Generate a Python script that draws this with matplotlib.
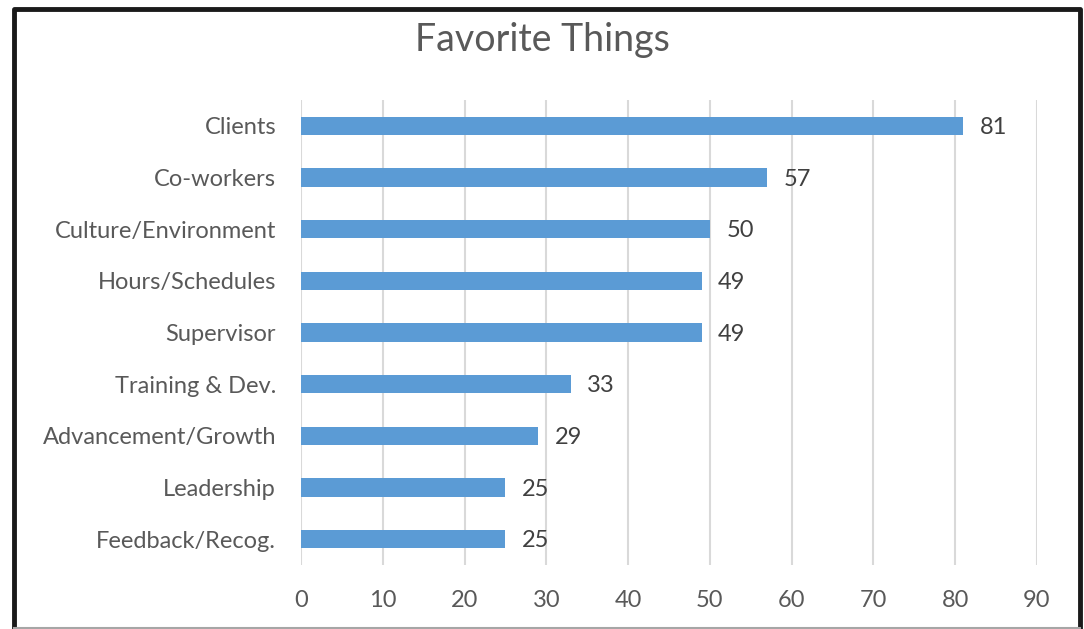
import matplotlib.pyplot as plt

categories = ['Clients', 'Co-workers', 'Culture/Environment', 'Hours/Schedules',
              'Supervisor', 'Training & Dev.', 'Advancement/Growth', 'Leadership',
              'Feedback/Recog.']
counts = [81, 57, 50, 49, 49, 33, 29, 25, 25]
x_ticks = [0, 10, 20, 30, 40, 50, 60, 70, 80, 90]

plt.rcParams['font.family'] = ['Lato', 'DejaVu Sans']
text_color = '#595959'

fig = plt.figure(figsize=(10.84, 6.29), dpi=100)
ax = fig.add_axes([301 / 1084, 1 - 565 / 629, (1037 - 301) / 1084, (565 - 100) / 629])

y_pos = list(range(len(categories)))
ax.barh(y_pos, counts, height=0.35, color='#5B9BD5', zorder=3)
ax.set_ylim(len(categories) - 0.5, -0.5)
ax.set_xlim(0, 90)
ax.set_xticks(x_ticks)
ax.set_yticks(y_pos)
ax.set_yticklabels(categories)
ax.tick_params(axis='both', length=0, labelsize=17, labelcolor=text_color)
ax.tick_params(axis='y', pad=18)
ax.tick_params(axis='x', pad=18)
ax.grid(axis='x', color='#D9D9D9', linewidth=1.5, zorder=0)
for s in ax.spines.values():
    s.set_visible(False)

for y, v in zip(y_pos, counts):
    ax.text(v + 2.0, y + 0.03, str(v), va='center', ha='left', fontsize=17, color='#404040')

fig.text(0.5, 1 - 40 / 629, 'Favorite Things', ha='center', va='center',
         fontsize=27, color=text_color)

# outer frame: black on left, top, right; thin gray at bottom
W, H = 1084, 629
left, right, top, bottom = 13.5 / W, 1080 / W, 1 - 9 / H, 1 - 627.5 / H
fig.add_artist(plt.Line2D([left, left, right, right], [bottom, top, top, bottom],
                          transform=fig.transFigure, color='#1a1a1a', linewidth=3.5))
fig.add_artist(plt.Line2D([left, right], [bottom, bottom],
                          transform=fig.transFigure, color='#A6A6A6', linewidth=1.5))

fig.savefig('out.png', dpi=100)
